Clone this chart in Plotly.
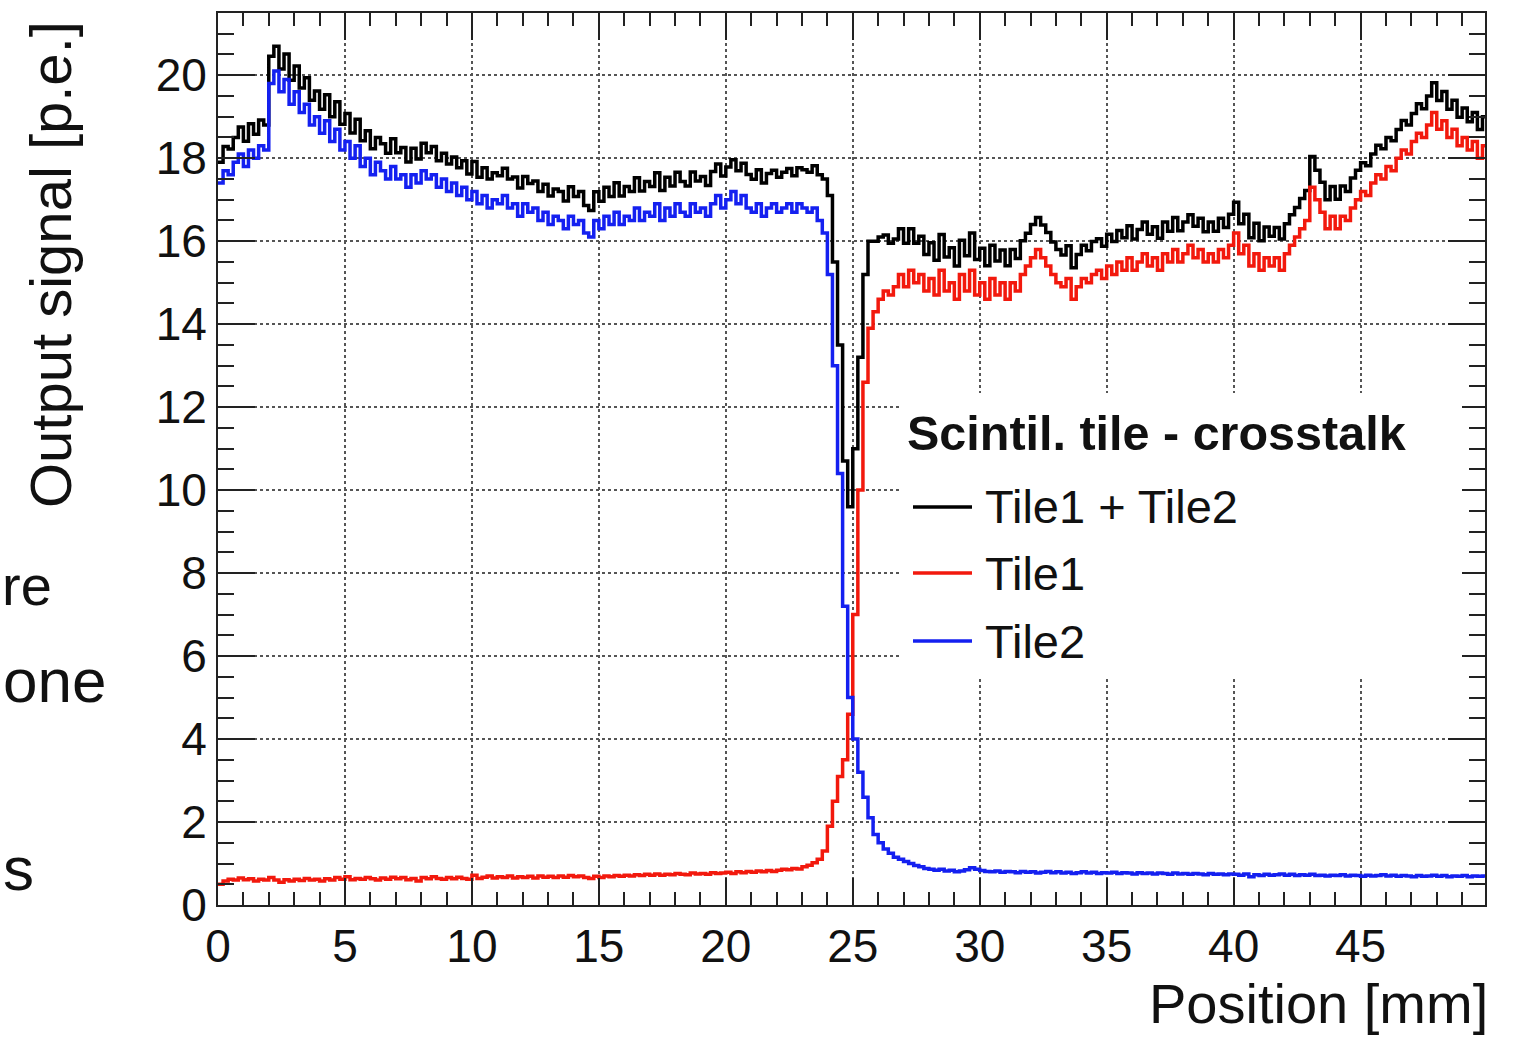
import numpy as np
import plotly.graph_objects as go

# Scan of the scintillator tile pair: signal per 0.2 mm position bin
BIN_WIDTH = 0.2

tile1 = [
    0.50, 0.58, 0.62, 0.60, 0.65, 0.61, 0.63, 0.58, 0.62, 0.60,
    0.66, 0.60, 0.55, 0.61, 0.58, 0.62, 0.59, 0.64, 0.60, 0.62,
    0.58, 0.63, 0.60, 0.66, 0.62, 0.68, 0.61, 0.64, 0.62, 0.66,
    0.63, 0.60, 0.65, 0.62, 0.67, 0.63, 0.66, 0.61, 0.64, 0.58,
    0.66, 0.63, 0.68, 0.64, 0.62, 0.66, 0.63, 0.67, 0.64, 0.62,
    0.72, 0.64, 0.67, 0.70, 0.65, 0.68, 0.66, 0.70, 0.65, 0.68,
    0.66, 0.69, 0.65, 0.70, 0.67, 0.69, 0.66, 0.70, 0.67, 0.71,
    0.68, 0.70, 0.66, 0.64, 0.69, 0.66, 0.70, 0.68, 0.71, 0.69,
    0.72, 0.70, 0.73, 0.71, 0.74, 0.72, 0.75, 0.72, 0.74, 0.73,
    0.76, 0.74, 0.73, 0.77, 0.75, 0.76, 0.74, 0.78, 0.76, 0.77,
    0.79, 0.76, 0.80, 0.78, 0.81, 0.79, 0.82, 0.80, 0.83, 0.81,
    0.84, 0.86, 0.85, 0.88, 0.87, 0.92, 0.96, 1.02, 1.10, 1.30,
    1.90, 2.50, 3.10, 3.50, 4.60, 7.00, 10.0, 12.6, 13.9, 14.3,
    14.6, 14.8, 14.7, 14.9, 15.2, 14.9, 15.3, 15.0, 15.2, 14.8,
    15.1, 14.7, 15.3, 14.8, 15.0, 14.6, 15.2, 14.8, 15.3, 14.7,
    15.0, 14.6, 15.1, 14.7, 15.0, 14.6, 15.0, 14.8, 15.2, 15.4,
    15.6, 15.8, 15.6, 15.4, 15.2, 15.0, 14.9, 15.1, 14.6, 14.9,
    15.1, 15.0, 15.2, 15.3, 15.1, 15.4, 15.2, 15.5, 15.3, 15.6,
    15.3, 15.5, 15.7, 15.4, 15.6, 15.3, 15.7, 15.5, 15.8, 15.5,
    15.7, 15.9, 15.6, 15.8, 15.5, 15.7, 15.5, 15.8, 15.6, 15.9,
    16.2, 15.7, 15.9, 15.4, 15.7, 15.3, 15.6, 15.4, 15.6, 15.3,
    15.7, 15.9, 16.1, 16.3, 16.5, 17.3, 17.0, 16.7, 16.3, 16.6,
    16.3, 16.6, 16.5, 16.8, 17.0, 17.2, 17.1, 17.4, 17.6, 17.5,
    17.8, 17.7, 18.0, 18.2, 18.1, 18.4, 18.6, 18.5, 18.8, 19.1,
    18.7, 18.9, 18.5, 18.7, 18.3, 18.5, 18.2, 18.4, 18.0, 18.3,
]

tile2 = [
    17.4, 17.7, 17.6, 17.9, 18.1, 17.8, 18.2, 18.0, 18.3, 18.2,
    19.8, 20.1, 19.6, 19.9, 19.3, 19.6, 19.1, 19.3, 18.8, 19.0,
    18.6, 18.9, 18.4, 18.7, 18.2, 18.4, 18.0, 18.3, 17.8, 18.0,
    17.6, 17.9, 17.7, 17.5, 17.8, 17.5, 17.6, 17.3, 17.6, 17.4,
    17.7, 17.5, 17.6, 17.3, 17.5, 17.2, 17.4, 17.1, 17.3, 17.0,
    17.2, 16.9, 17.1, 16.8, 17.0, 16.9, 17.1, 16.8, 16.9, 16.6,
    16.9, 16.7, 16.8, 16.5, 16.7, 16.4, 16.6, 16.5, 16.3, 16.6,
    16.4, 16.5, 16.2, 16.1, 16.5, 16.3, 16.6, 16.4, 16.7, 16.4,
    16.6, 16.5, 16.8, 16.5, 16.7, 16.6, 16.9, 16.5, 16.8, 16.6,
    16.9, 16.7, 16.6, 16.9, 16.7, 16.8, 16.6, 16.9, 17.1, 16.8,
    17.0, 17.2, 16.9, 17.1, 16.8, 16.7, 16.9, 16.6, 16.8, 16.9,
    16.7, 16.8, 16.9, 16.7, 16.9, 16.8, 16.7, 16.8, 16.5, 16.2,
    15.2, 13.0, 10.4, 7.2, 5.0, 4.0, 3.2, 2.6, 2.1, 1.7,
    1.50, 1.35, 1.25, 1.15, 1.10, 1.05, 1.00, 0.95, 0.92, 0.88,
    0.86, 0.84, 0.86, 0.82, 0.84, 0.80, 0.82, 0.85, 0.90, 0.86,
    0.83, 0.81, 0.80, 0.82, 0.79, 0.81, 0.80, 0.78, 0.81, 0.79,
    0.80, 0.77, 0.79, 0.81, 0.78, 0.80, 0.77, 0.79, 0.76, 0.78,
    0.80, 0.77, 0.79, 0.76, 0.78, 0.77, 0.79, 0.76, 0.78, 0.77,
    0.75, 0.78, 0.76, 0.77, 0.75, 0.77, 0.76, 0.74, 0.77, 0.75,
    0.76, 0.74, 0.76, 0.75, 0.73, 0.76, 0.74, 0.75, 0.73, 0.75,
    0.74, 0.72, 0.75, 0.68, 0.73, 0.71, 0.74, 0.72, 0.73, 0.75,
    0.72, 0.74, 0.71, 0.73, 0.72, 0.74, 0.71, 0.72, 0.70, 0.72,
    0.71, 0.73, 0.70, 0.72, 0.71, 0.69, 0.72, 0.70, 0.71, 0.73,
    0.70, 0.72, 0.69, 0.71, 0.70, 0.68, 0.71, 0.69, 0.70, 0.72,
    0.69, 0.71, 0.68, 0.70, 0.69, 0.71, 0.68, 0.70, 0.69, 0.70,
]

# The combined readout is the sum of both tiles
tile_sum = [a + b for a, b in zip(tile1, tile2)]

series_names = ["Tile1 + Tile2", "Tile1", "Tile2"]
series_colors = ["#000000", "#f2190d", "#1420f0"]
x_ticks = [0, 5, 10, 15, 20, 25, 30, 35, 40, 45]
y_ticks = [0, 2, 4, 6, 8, 10, 12, 14, 16, 18, 20]

edges = np.round(np.arange(len(tile1) + 1) * BIN_WIDTH, 1)

FONT = "Liberation Sans, Arial, Helvetica, sans-serif"
W, H = 1518, 1039
L, R, T, B = 218, 33, 13, 134
PW, PH = W - L - R, H - T - B


def px(xp):
    return (xp - L) / PW


def py(yp):
    return (H - B - yp) / PH


fig = go.Figure()
for name, color, vals in zip(series_names, series_colors, [tile_sum, tile1, tile2]):
    fig.add_trace(go.Scatter(
        x=edges, y=list(vals) + [vals[-1]], mode="lines", name=name,
        line=dict(color=color, width=3.5, shape="hv"), showlegend=False,
    ))

axis_common = dict(
    showline=True, linecolor="#222", linewidth=2, mirror="allticks",
    ticks="inside", tickcolor="#222", tickwidth=2,
    showgrid=True, gridcolor="#555", griddash="dot", gridwidth=1.5,
    zeroline=False, tickfont=dict(family=FONT, size=46, color="#111"),
)

fig.update_xaxes(
    range=[0, 49.9], tickmode="array", tickvals=x_ticks, ticklen=27,
    minor=dict(tickmode="linear", tick0=0, dtick=1, ticks="inside", ticklen=13,
               tickwidth=1.5, tickcolor="#222", showgrid=False),
    **axis_common,
)
fig.update_yaxes(
    range=[0, 21.5], tickmode="array", tickvals=y_ticks, ticklen=37,
    minor=dict(tickmode="linear", tick0=0, dtick=0.5, ticks="inside", ticklen=16,
               tickwidth=1.5, tickcolor="#222", showgrid=False),
    **axis_common,
)

# Legend box drawn as paper-space shapes and text
legend_y = [507, 573, 641]
shapes = [dict(type="rect", xref="paper", yref="paper", layer="above",
               x0=px(900), x1=px(1462), y0=py(677), y1=py(393),
               fillcolor="white", line=dict(width=0))]
for yy, color in zip(legend_y, series_colors):
    shapes.append(dict(type="line", xref="paper", yref="paper", layer="above",
                       x0=px(913), x1=px(972), y0=py(yy), y1=py(yy),
                       line=dict(color=color, width=3.5)))

annotations = [
    dict(text="<b>Scintil. tile - crosstalk</b>", x=px(905), y=py(433),
         xanchor="left", yanchor="middle", font=dict(size=48.5)),
]
for yy, name in zip(legend_y, series_names):
    annotations.append(dict(text=name, x=px(983), y=py(yy), xanchor="left",
                            yanchor="middle", font=dict(size=47)))

annotations += [
    dict(text="Position [mm]", x=px(1490), y=py(1003), xanchor="right",
         yanchor="middle", font=dict(size=56)),
    dict(text="Output signal [p.e.]", x=px(50), y=py(265), textangle=-90,
         xanchor="center", yanchor="middle", font=dict(size=58)),
    dict(text="re", x=px(54), y=py(585), xanchor="right", yanchor="middle",
         font=dict(size=56)),
    dict(text="one", x=px(108), y=py(680), xanchor="right", yanchor="middle",
         font=dict(size=62)),
    dict(text="s", x=px(36), y=py(868), xanchor="right", yanchor="middle",
         font=dict(size=62)),
]
for a in annotations:
    a.update(xref="paper", yref="paper", showarrow=False)
    a["font"].update(family=FONT, color="#111")

fig.update_layout(
    width=W, height=H, autosize=False,
    margin=dict(l=L, r=R, t=T, b=B),
    paper_bgcolor="white", plot_bgcolor="white",
    shapes=shapes, annotations=annotations,
)

fig.write_html("out.html")
